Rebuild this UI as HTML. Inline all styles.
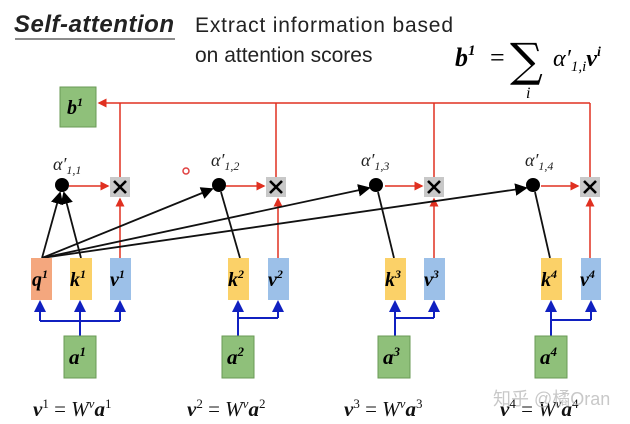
<!DOCTYPE html>
<html><head><meta charset="utf-8"><style>
body{margin:0;background:#fff;}
svg{display:block}
.m{font-family:"Liberation Serif",serif;font-weight:bold;font-style:italic}
</style></head><body>
<svg width="630" height="424" viewBox="0 0 630 424" xmlns="http://www.w3.org/2000/svg">
<defs>
<marker id="r" markerWidth="6" markerHeight="6" refX="5" refY="3" orient="auto"><path d="M0,0 L6,3 L0,6z" fill="#e03020"/></marker>
<marker id="b" markerWidth="6" markerHeight="6" refX="5" refY="3" orient="auto"><path d="M0,0 L6,3 L0,6z" fill="#1020c0"/></marker>
<marker id="k" markerWidth="7" markerHeight="7" refX="6" refY="3.5" orient="auto"><path d="M0,0 L7,3.5 L0,7z" fill="#000"/></marker>
</defs>
<text x="14" y="32" font-family="Liberation Sans,sans-serif" font-size="24" font-weight="bold" font-style="italic" fill="#222" textLength="160">Self-attention</text>
<line x1="15" y1="39" x2="175" y2="39" stroke="#666" stroke-width="1.5"/>
<text x="195" y="32" font-family="Liberation Sans,sans-serif" font-size="21" fill="#222" textLength="258">Extract information based</text>
<text x="195" y="62" font-family="Liberation Sans,sans-serif" font-size="21" fill="#222">on attention scores</text>
<text x="455" y="66" class="m" font-size="26">b<tspan font-size="15" dy="-11">1</tspan></text>
<text x="490" y="66" font-family="Liberation Serif,serif" font-size="26">=</text>
<text x="510" y="76" font-family="DejaVu Serif,serif" font-size="46">∑</text>
<text x="526" y="98" font-family="Liberation Serif,serif" font-style="italic" font-size="16">i</text>
<text x="553" y="66" font-family="Liberation Serif,serif" font-style="italic" font-size="24">α′<tspan font-size="15" dy="5">1,i</tspan><tspan class="m" font-size="24" dy="-5">v</tspan><tspan class="m" font-size="14" dy="-10">i</tspan></text>

<rect x="60" y="87" width="36" height="40" fill="#8fc07a" stroke="#6a9a55"/>
<text x="67" y="114" class="m" font-size="20">b<tspan font-size="12" dy="-8">1</tspan></text>

<g stroke="#e03020" stroke-width="1.5" fill="none">
<line x1="590" y1="103" x2="99" y2="103" marker-end="url(#r)"/>
<line x1="120" y1="103" x2="120" y2="177"/><line x1="276" y1="103" x2="276" y2="177"/>
<line x1="434" y1="103" x2="434" y2="177"/><line x1="590" y1="103" x2="590" y2="177"/>
<line x1="120" y1="258" x2="120" y2="199" marker-end="url(#r)"/>
<line x1="278" y1="258" x2="278" y2="199" marker-end="url(#r)"/>
<line x1="434" y1="258" x2="434" y2="199" marker-end="url(#r)"/>
<line x1="590" y1="258" x2="590" y2="199" marker-end="url(#r)"/>
<line x1="69" y1="186" x2="108" y2="186" marker-end="url(#r)"/>
<line x1="226" y1="186" x2="264" y2="186" marker-end="url(#r)"/>
<line x1="385" y1="186" x2="422" y2="186" marker-end="url(#r)"/>
<line x1="541" y1="186" x2="578" y2="186" marker-end="url(#r)"/>
</g>
<g fill="#c8c8c8"><rect x="110" y="177" width="20" height="20"/><rect x="266" y="177" width="20" height="20"/><rect x="424" y="177" width="20" height="20"/><rect x="580" y="177" width="20" height="20"/></g>
<g stroke="#000" stroke-width="2.6">
<path d="M114,181 L126,193 M126,181 L114,193"/>
<path d="M270,181 L282,193 M282,181 L270,193"/>
<path d="M428,181 L440,193 M440,181 L428,193"/>
<path d="M584,181 L596,193 M596,181 L584,193"/>
</g>
<g fill="#000"><circle cx="62" cy="185" r="7"/><circle cx="219" cy="185" r="7"/><circle cx="376" cy="185" r="7"/><circle cx="533" cy="185" r="7"/></g>
<g font-family="Liberation Serif,serif" font-style="italic" font-size="18" fill="#222">
<text x="53" y="170">α′<tspan font-size="12" dy="4">1,1</tspan></text>
<text x="211" y="166">α′<tspan font-size="12" dy="4">1,2</tspan></text>
<text x="361" y="166">α′<tspan font-size="12" dy="4">1,3</tspan></text>
<text x="525" y="166">α′<tspan font-size="12" dy="4">1,4</tspan></text>
</g>
<circle cx="186" cy="171" r="3" fill="none" stroke="#e04040" stroke-width="1.5"/>
<g stroke="#111" stroke-width="1.8">
<line x1="42" y1="258" x2="60" y2="193" marker-end="url(#k)"/>
<line x1="81" y1="258" x2="64" y2="193" marker-end="url(#k)"/>
<line x1="42" y1="258" x2="212" y2="189" marker-end="url(#k)"/>
<line x1="42" y1="258" x2="369" y2="188" marker-end="url(#k)"/>
<line x1="42" y1="258" x2="526" y2="188" marker-end="url(#k)"/>
<line x1="240" y1="258" x2="221" y2="192"/>
<line x1="394" y1="258" x2="378" y2="192"/>
<line x1="550" y1="258" x2="535" y2="192"/>
</g>
<g class="m" font-size="20">
<rect x="31" y="258" width="21" height="42" fill="#f4a77e"/><text x="32" y="286">q<tspan font-size="12" dy="-8">1</tspan></text>
<rect x="70" y="258" width="22" height="42" fill="#fbd168"/><text x="70" y="286">k<tspan font-size="12" dy="-8">1</tspan></text>
<rect x="110" y="258" width="21" height="42" fill="#9cc0e8"/><text x="110" y="286">v<tspan font-size="12" dy="-8">1</tspan></text>
<rect x="228" y="258" width="21" height="42" fill="#fbd168"/><text x="228" y="286">k<tspan font-size="12" dy="-8">2</tspan></text>
<rect x="268" y="258" width="21" height="42" fill="#9cc0e8"/><text x="268" y="286">v<tspan font-size="12" dy="-8">2</tspan></text>
<rect x="385" y="258" width="21" height="42" fill="#fbd168"/><text x="385" y="286">k<tspan font-size="12" dy="-8">3</tspan></text>
<rect x="424" y="258" width="21" height="42" fill="#9cc0e8"/><text x="424" y="286">v<tspan font-size="12" dy="-8">3</tspan></text>
<rect x="541" y="258" width="21" height="42" fill="#fbd168"/><text x="541" y="286">k<tspan font-size="12" dy="-8">4</tspan></text>
<rect x="581" y="258" width="20" height="42" fill="#9cc0e8"/><text x="580" y="286">v<tspan font-size="12" dy="-8">4</tspan></text>
</g>
<g stroke="#1020c0" stroke-width="2" fill="none">
<polyline points="80,336 80,321"/><polyline points="40,321 120,321"/>
<line x1="40" y1="321" x2="40" y2="302" marker-end="url(#b)"/><line x1="80" y1="321" x2="80" y2="302" marker-end="url(#b)"/><line x1="120" y1="321" x2="120" y2="302" marker-end="url(#b)"/>
<polyline points="238,336 238,318 278,318"/><line x1="238" y1="318" x2="238" y2="302" marker-end="url(#b)"/><line x1="278" y1="318" x2="278" y2="302" marker-end="url(#b)"/>
<polyline points="395,336 395,318 434,318"/><line x1="395" y1="318" x2="395" y2="302" marker-end="url(#b)"/><line x1="434" y1="318" x2="434" y2="302" marker-end="url(#b)"/>
<polyline points="551,336 551,320 591,320"/><line x1="551" y1="320" x2="551" y2="302" marker-end="url(#b)"/><line x1="591" y1="320" x2="591" y2="302" marker-end="url(#b)"/>
</g>
<g class="m" font-size="21">
<rect x="64" y="336" width="32" height="42" fill="#8fc07a" stroke="#6a9a55"/><text x="69" y="364">a<tspan font-size="13" dy="-8">1</tspan></text>
<rect x="222" y="336" width="32" height="42" fill="#8fc07a" stroke="#6a9a55"/><text x="227" y="364">a<tspan font-size="13" dy="-8">2</tspan></text>
<rect x="378" y="336" width="32" height="42" fill="#8fc07a" stroke="#6a9a55"/><text x="383" y="364">a<tspan font-size="13" dy="-8">3</tspan></text>
<rect x="535" y="336" width="32" height="42" fill="#8fc07a" stroke="#6a9a55"/><text x="540" y="364">a<tspan font-size="13" dy="-8">4</tspan></text>
</g>
<g font-family="Liberation Serif,serif" font-size="21" fill="#111">
<text x="33" y="416"><tspan class="m">v</tspan><tspan font-size="13" dy="-8">1</tspan><tspan dy="8"> = </tspan><tspan font-style="italic">W</tspan><tspan font-style="italic" font-size="13" dy="-8">v</tspan><tspan class="m" dy="8">a</tspan><tspan font-size="13" dy="-8">1</tspan></text>
<text x="187" y="416"><tspan class="m">v</tspan><tspan font-size="13" dy="-8">2</tspan><tspan dy="8"> = </tspan><tspan font-style="italic">W</tspan><tspan font-style="italic" font-size="13" dy="-8">v</tspan><tspan class="m" dy="8">a</tspan><tspan font-size="13" dy="-8">2</tspan></text>
<text x="344" y="416"><tspan class="m">v</tspan><tspan font-size="13" dy="-8">3</tspan><tspan dy="8"> = </tspan><tspan font-style="italic">W</tspan><tspan font-style="italic" font-size="13" dy="-8">v</tspan><tspan class="m" dy="8">a</tspan><tspan font-size="13" dy="-8">3</tspan></text>
<text x="500" y="416"><tspan class="m">v</tspan><tspan font-size="13" dy="-8">4</tspan><tspan dy="8"> = </tspan><tspan font-style="italic">W</tspan><tspan font-style="italic" font-size="13" dy="-8">v</tspan><tspan class="m" dy="8">a</tspan><tspan font-size="13" dy="-8">4</tspan></text>
</g>
<text x="493" y="405" font-family="Liberation Sans,'Noto Sans CJK SC',sans-serif" font-size="18" fill="#bbb" opacity="0.8">知乎 @橘Oran</text>
</svg>
</body></html>
